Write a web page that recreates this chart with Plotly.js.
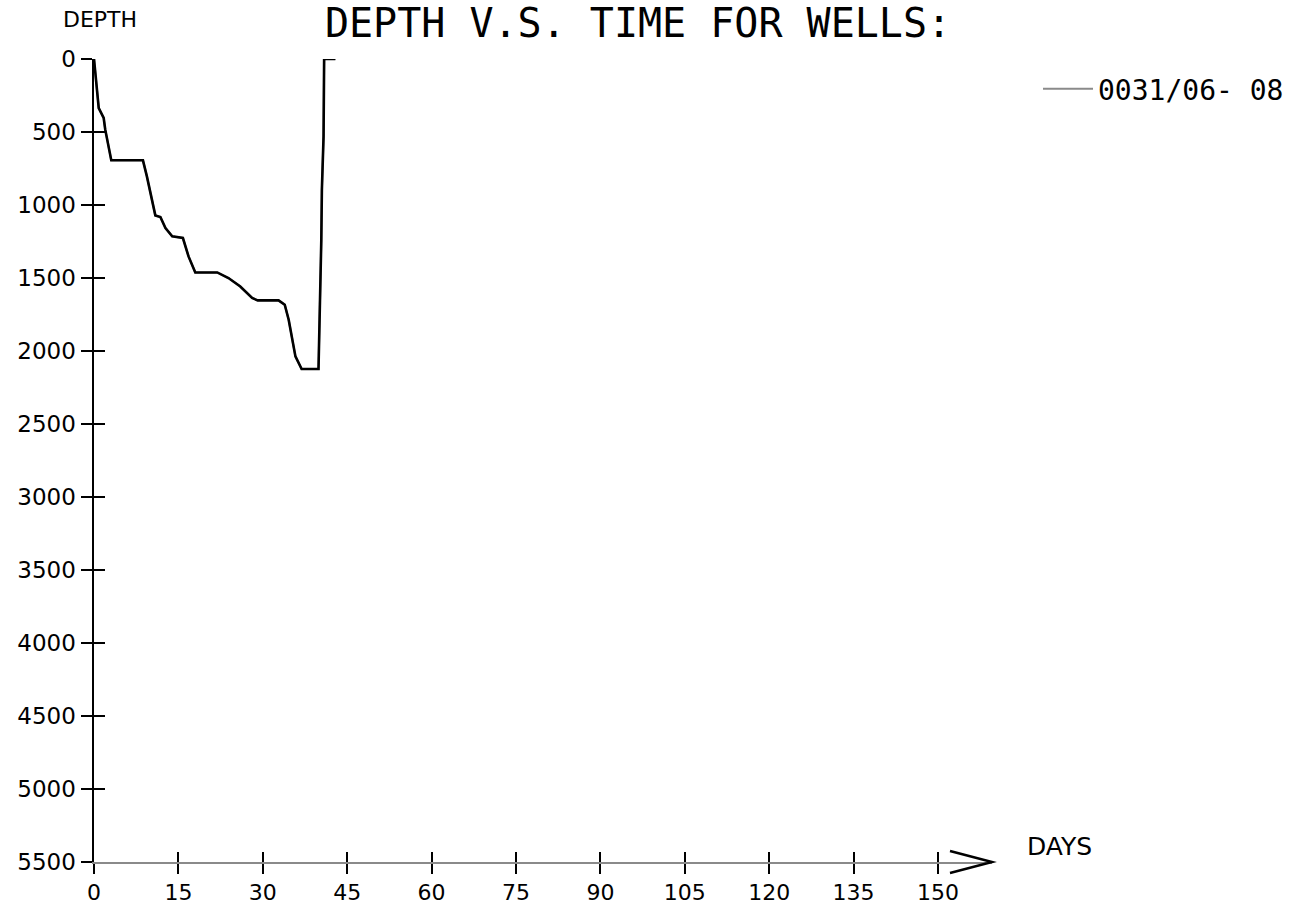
<!DOCTYPE html>
<html>
<head>
<meta charset="utf-8">
<script src="https://cdn.plot.ly/plotly-3.0.1.min.js"></script>
<style>html,body{margin:0;padding:0;background:#fff;}#chart{width:1309px;height:905px;}</style>
</head>
<body>
<div id="chart"></div>
<script>
// Well 0031/06- 08 : depth vs time
const wellName = "0031/06- 08";
const days  = [0, 0.84, 1.72, 2.0, 3.07, 8.7, 9.4, 10.9, 11.8, 12.7, 13.9, 15.8, 16.8, 18.0, 21.9, 23.9, 26.0, 28.1, 29.1, 32.8, 33.9, 34.6, 35.8, 36.9, 39.9, 40.0, 40.2, 40.4, 40.5, 40.8, 40.9, 42.9];
const depth = [0, 336, 404, 484, 694, 694, 804, 1071, 1082, 1158, 1215, 1226, 1352, 1462, 1462, 1500, 1558, 1637, 1653, 1653, 1683, 1786, 2037, 2123, 2123, 1957, 1626, 1238, 895, 530, 0, 0];
const xTicks = [0, 15, 30, 45, 60, 75, 90, 105, 120, 135, 150];
const yTicks = [0, 500, 1000, 1500, 2000, 2500, 3000, 3500, 4000, 4500, 5000, 5500];

const L = 94, T = 59, B = 862, R = 992;
const W = 1309, H = 905;
const xMax = 159.6;
function px2paperX(p){ return (p - L) / (R - L); }
function py2paperY(p){ return (B - p) / (B - T); }

const traces = [
  // gray copy underneath: carries the legend entry (gray legend line)
  {x: days, y: depth, type: "scatter", mode: "lines",
   name: wellName, showlegend: true, line: {color: "#8a8a8a", width: 2}, hoverinfo: "skip"},
  // black curve on the overlay axes (which also draw the inner half of each tick)
  {x: days, y: depth, type: "scatter", mode: "lines", xaxis: "x2", yaxis: "y2",
   name: wellName, showlegend: false, line: {color: "#000", width: 2.6}, hoverinfo: "skip"}
];

const axBase = {showgrid: false, zeroline: false, mirror: false};
const layout = {
  width: W, height: H,
  paper_bgcolor: "#fff", plot_bgcolor: "#fff",
  margin: {l: L, r: W - R, t: T, b: H - B, pad: 0},
  title: {text: "DEPTH V.S. TIME FOR WELLS:", xref: "container", yref: "container",
          x: 638 / W, y: 1, xanchor: "center", yanchor: "top", pad: {t: 9, b: 0, l: 0, r: 0},
          font: {family: "DejaVu Sans Mono", size: 40, color: "#000"}},
  showlegend: true,
  legend: {x: px2paperX(1038), y: py2paperY(89), xanchor: "left", yanchor: "middle",
           font: {family: "DejaVu Sans Mono", size: 28, color: "#000"},
           bgcolor: "rgba(0,0,0,0)", itemwidth: 50},
  xaxis: Object.assign({}, axBase, {range: [0, xMax], tickvals: xTicks, ticktext: xTicks.map(String),
    ticks: "outside", ticklen: 10, tickwidth: 2, tickcolor: "#000",
    showline: true, linecolor: "#8a8a8a", linewidth: 2,
    tickfont: {family: "DejaVu Sans", size: 22, color: "#000"}}),
  yaxis: Object.assign({}, axBase, {range: [5500, 0], tickvals: yTicks, ticktext: yTicks.map(String),
    ticks: "outside", ticklen: 11, tickwidth: 2, tickcolor: "#000",
    showline: true, linecolor: "#000", linewidth: 2.5,
    tickfont: {family: "DejaVu Sans", size: 23, color: "#000"}}),
  xaxis2: Object.assign({}, axBase, {range: [0, xMax], overlaying: "x", side: "bottom", tickvals: xTicks,
    ticks: "inside", ticklen: 10, tickwidth: 2, tickcolor: "#000", showticklabels: false, showline: false}),
  yaxis2: Object.assign({}, axBase, {range: [5500, 0], overlaying: "y", side: "left", tickvals: yTicks,
    ticks: "inside", ticklen: 11, tickwidth: 2, tickcolor: "#000", showticklabels: false, showline: false}),
  annotations: [
    {text: "DEPTH", xref: "paper", yref: "paper", x: px2paperX(100), y: py2paperY(19),
     xanchor: "center", yanchor: "middle", showarrow: false,
     font: {family: "DejaVu Sans", size: 22, color: "#000"}},
    {text: "DAYS", xref: "paper", yref: "paper", x: px2paperX(1059), y: py2paperY(846),
     xanchor: "center", yanchor: "middle", showarrow: false,
     font: {family: "DejaVu Sans", size: 25, color: "#000"}}
  ],
  shapes: [
    {type: "path", xref: "paper", yref: "paper",
     path: "M " + px2paperX(950) + "," + py2paperY(851) + " L 1,0 L " + px2paperX(950) + "," + py2paperY(873),
     line: {color: "#000", width: 2.5}}
  ]
};

Plotly.newPlot("chart", traces, layout, {displayModeBar: false, staticPlot: true});
</script>
</body>
</html>
